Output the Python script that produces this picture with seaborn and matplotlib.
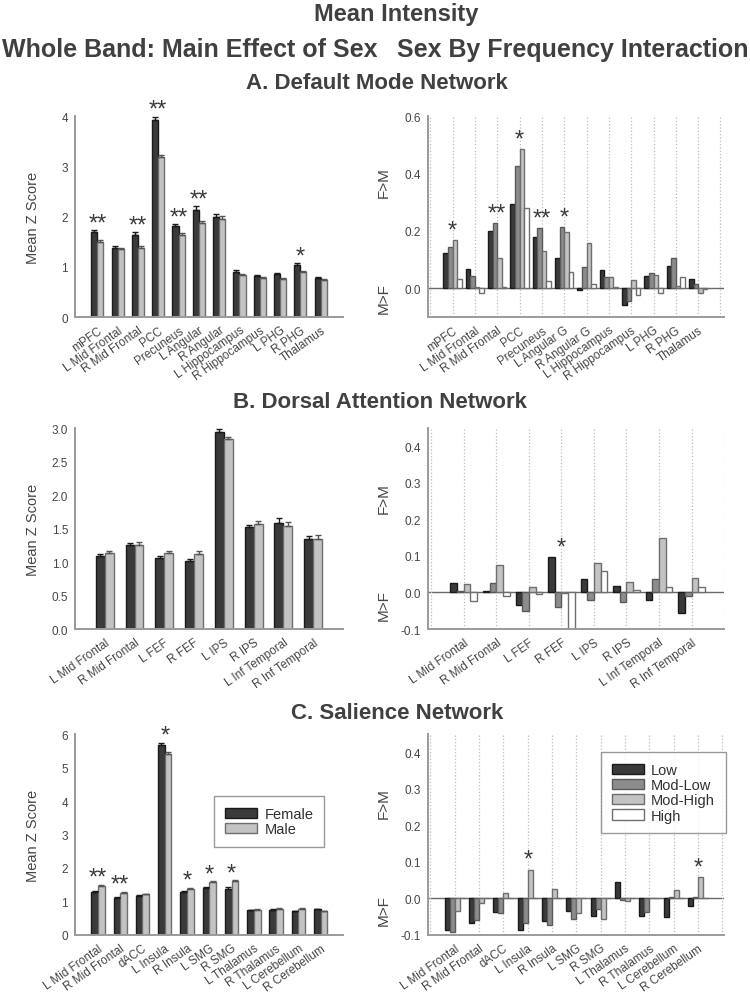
import numpy as np
import pandas as pd
import matplotlib
matplotlib.use("Agg")
import matplotlib.pyplot as plt
import matplotlib.transforms as mtransforms
import seaborn as sns

# A. Default Mode Network
dmn_regions = ["mPFC", "L Mid Frontal", "R Mid Frontal", "PCC", "Precuneus", "L Angular",
               "R Angular", "L Hippocampus", "R Hippocampus", "L PHG", "R PHG", "Thalamus"]
dmn_female = [1.69, 1.38, 1.64, 3.92, 1.81, 2.13, 1.99, 0.89, 0.81, 0.85, 1.03, 0.77]
dmn_male = [1.50, 1.35, 1.38, 3.18, 1.64, 1.87, 1.96, 0.83, 0.77, 0.76, 0.89, 0.74]
dmn_female_err = [0.04, 0.04, 0.05, 0.07, 0.04, 0.07, 0.06, 0.04, 0.03, 0.02, 0.04, 0.02]
dmn_male_err = [0.03, 0.03, 0.03, 0.05, 0.03, 0.05, 0.05, 0.02, 0.02, 0.02, 0.02, 0.01]
dmn_sex_stars = {0: "**", 2: "**", 3: "**", 4: "**", 5: "**", 10: "*"}

dmn_regions_int = ["mPFC", "L Mid Frontal", "R Mid Frontal", "PCC", "Precuneus", "L Angular G",
                   "R Angular G", "L Hippocampus", "R Hippocampus", "L PHG", "R PHG", "Thalamus"]
dmn_low = [0.123, 0.066, 0.199, 0.295, 0.180, 0.106, -0.006, 0.064, -0.058, 0.043, 0.079, 0.032]
dmn_modlow = [0.145, 0.042, 0.227, 0.427, 0.209, 0.214, 0.074, 0.038, -0.043, 0.053, 0.105, 0.015]
dmn_modhigh = [0.167, 0.003, 0.105, 0.484, 0.130, 0.195, 0.156, 0.038, 0.028, 0.046, 0.009, -0.018]
dmn_high = [0.031, -0.018, 0.003, 0.280, 0.025, 0.057, 0.015, 0.004, -0.022, -0.018, 0.039, -0.004]
dmn_int_stars = {0: "*", 2: "**", 3: "*", 4: "**", 5: "*"}

# B. Dorsal Attention Network
dan_regions = ["L Mid Frontal", "R Mid Frontal", "L FEF", "R FEF", "L IPS", "R IPS",
               "L Inf Temporal", "R Inf Temporal"]
dan_female = [1.09, 1.25, 1.06, 1.01, 2.94, 1.52, 1.58, 1.34]
dan_male = [1.14, 1.26, 1.14, 1.12, 2.83, 1.57, 1.54, 1.35]
dan_female_err = [0.03, 0.04, 0.03, 0.04, 0.04, 0.04, 0.07, 0.05]
dan_male_err = [0.03, 0.04, 0.03, 0.04, 0.03, 0.04, 0.06, 0.05]
dan_sex_stars = {}

dan_low = [0.025, 0.003, -0.034, 0.096, 0.036, 0.017, -0.021, -0.057]
dan_modlow = [0.003, 0.025, -0.050, -0.041, -0.021, -0.025, 0.037, -0.009]
dan_modhigh = [0.022, 0.075, 0.016, -0.001, 0.081, 0.030, 0.150, 0.039]
dan_high = [-0.022, -0.009, -0.003, -0.100, 0.060, 0.008, 0.016, 0.016]
dan_int_stars = {3: "*"}

# C. Salience Network
sal_regions = ["L Mid Frontal", "R Mid Frontal", "dACC", "L Insula", "R Insula", "L SMG",
               "R SMG", "L Thalamus", "R Thalamus", "L Cerebellum", "R Cerebellum"]
sal_female = [1.27, 1.09, 1.17, 5.67, 1.27, 1.40, 1.38, 0.75, 0.76, 0.72, 0.78]
sal_male = [1.47, 1.26, 1.21, 5.39, 1.38, 1.58, 1.60, 0.76, 0.79, 0.78, 0.71]
sal_female_err = [0.03, 0.03, 0.02, 0.07, 0.03, 0.03, 0.05, 0.01, 0.01, 0.01, 0.01]
sal_male_err = [0.03, 0.03, 0.02, 0.07, 0.03, 0.03, 0.04, 0.02, 0.02, 0.02, 0.02]
sal_sex_stars = {0: "**", 1: "**", 3: "*", 4: "*", 5: "*", 6: "*"}

sal_low = [-0.086, -0.068, -0.038, -0.086, -0.062, -0.035, -0.049, 0.046, -0.048, -0.052, -0.020]
sal_modlow = [-0.093, -0.058, -0.039, -0.068, -0.074, -0.056, -0.030, -0.004, -0.036, 0.004, 0.005]
sal_modhigh = [-0.033, -0.013, 0.016, 0.079, 0.027, -0.041, -0.057, -0.008, 0.000, 0.022, 0.058]
sal_high = [0.0, 0.0, 0.0, 0.0, 0.0, 0.0, 0.0, 0.0, 0.0, 0.0, 0.0]
sal_int_stars = {3: "*", 10: "*"}

SEX = ["Female", "Male"]
FREQ = ["Low", "Mod-Low", "Mod-High", "High"]
sex_colors = {"Female": "#3a3a3a", "Male": "#c3c3c3"}
sex_edges = ["#1a1a1a", "#6e6e6e"]
freq_colors = {"Low": "#3a3a3a", "Mod-Low": "#8c8c8c", "Mod-High": "#c3c3c3", "High": "#ffffff"}
freq_edges = ["#1a1a1a", "#5a5a5a", "#6e6e6e", "#6e6e6e"]

AX_GREY = "#9a9a9a"
TXT = "#454545"

sns.set_style("white")
plt.rcParams["font.family"] = ["Liberation Sans", "DejaVu Sans"]
plt.rcParams["axes.edgecolor"] = AX_GREY
plt.rcParams["xtick.color"] = AX_GREY
plt.rcParams["ytick.color"] = AX_GREY
plt.rcParams["xtick.labelcolor"] = TXT
plt.rcParams["ytick.labelcolor"] = TXT


def style_axes(ax, regions, xlim, ylim, yticks, ylabels):
    n = len(regions)
    sns.despine(ax=ax)
    for s in ("left", "bottom"):
        ax.spines[s].set_linewidth(1.4)
    ax.set_xlim(*xlim)
    ax.set_ylim(*ylim)
    ax.set_xticks(list(range(-1, n + 1)))
    ax.set_xticklabels([""] + list(regions) + [""], rotation=35, ha="right",
                       rotation_mode="anchor", fontsize=8.5)
    ax.set_yticks(yticks)
    ax.set_yticklabels(ylabels, fontsize=8.5)
    ax.tick_params(axis="both", direction="out", length=3, width=1, pad=2)
    ax.set_xlabel("")


def sex_panel(ax, regions, female, male, f_err, m_err, stars, xlim, ylim, yticks, ylabels, legend=False):
    n = len(regions)
    df = pd.DataFrame({"region": regions * 2, "sex": [SEX[0]] * n + [SEX[1]] * n, "z": female + male})
    sns.barplot(data=df, x="region", y="z", hue="sex", hue_order=SEX, palette=sex_colors,
                order=regions, width=0.6, errorbar=None, saturation=1, linewidth=1,
                legend=legend, ax=ax)
    errs = [f_err, m_err]
    ecols = ["#1a1a1a", "#555555"]
    for cont, err, ec, edge in zip(ax.containers, errs, ecols, sex_edges):
        xs, ys = [], []
        for p in cont:
            p.set_edgecolor(edge)
            xs.append(p.get_x() + p.get_width() / 2)
            ys.append(p.get_height())
        ax.errorbar(xs, ys, yerr=[np.zeros(n), err], fmt="none", ecolor=ec,
                    elinewidth=1, capsize=2.5, capthick=1)
    for i, s in stars.items():
        top = max(female[i] + f_err[i], male[i] + m_err[i])
        ax.annotate(s, xy=(i, top), xytext=(0, -3), textcoords="offset points", ha="center",
                    va="bottom", fontsize=17, color="#3a3a3a", annotation_clip=False)
    style_axes(ax, regions, xlim, ylim, yticks, ylabels)
    ax.set_ylabel("Mean Z Score", fontsize=10.5, color=TXT)
    ax.yaxis.set_label_coords(-0.13, 0.5)


def freq_panel(ax, regions, low, modlow, modhigh, high, stars, xlim, ylim, yticks, ylabels,
               fm_y, mf_y, legend=False):
    n = len(regions)
    vals = [low, modlow, modhigh, high]
    df = pd.DataFrame({"region": regions * 4,
                       "freq": [f for f in FREQ for _ in range(n)],
                       "d": [v for series in vals for v in series]})
    ax.axhline(0, color="#6a6a6a", lw=1, zorder=0.5)
    sns.barplot(data=df, x="region", y="d", hue="freq", hue_order=FREQ, palette=freq_colors,
                order=regions, width=0.82, errorbar=None, saturation=1, linewidth=1,
                legend=legend, ax=ax)
    for cont, edge in zip(ax.containers, freq_edges):
        for p in cont:
            p.set_edgecolor(edge)
    for i, s in stars.items():
        top = max(v[i] for v in vals)
        ax.annotate(s, xy=(i, top), xytext=(0, -1), textcoords="offset points", ha="center",
                    va="bottom", fontsize=17, color="#3a3a3a", annotation_clip=False)
    style_axes(ax, regions, xlim, ylim, yticks, ylabels)
    ax.grid(axis="x", linestyle=":", color="#bdbdbd", linewidth=0.9)
    ax.set_axisbelow(True)
    ax.set_ylabel("")
    trans = mtransforms.blended_transform_factory(ax.transAxes, ax.transData)
    ax.text(-0.15, fm_y, "F>M", rotation=90, ha="center", va="center", transform=trans,
            fontsize=11, color=TXT)
    ax.text(-0.15, mf_y, "M>F", rotation=90, ha="center", va="center", transform=trans,
            fontsize=11, color=TXT)


fig = plt.figure(figsize=(7.5, 9.95), dpi=100)
L, LW = 0.1, 0.3573
R, RW = 0.5707, 0.3947
H = 0.202
bottoms = [0.6804, 0.3668, 0.0593]

axA1 = fig.add_axes([L, bottoms[0], LW, H])
axA2 = fig.add_axes([R, bottoms[0], RW, H])
axB1 = fig.add_axes([L, bottoms[1], LW, H])
axB2 = fig.add_axes([R, bottoms[1], RW, H])
axC1 = fig.add_axes([L, bottoms[2], LW, H])
axC2 = fig.add_axes([R, bottoms[2], RW, H])

sex_panel(axA1, dmn_regions, dmn_female, dmn_male, dmn_female_err, dmn_male_err, dmn_sex_stars,
          (-1.1, 12.1), (0, 4), [0, 1, 2, 3, 4], ["0", "1", "2", "3", "4"])
freq_panel(axA2, dmn_regions_int, dmn_low, dmn_modlow, dmn_modhigh, dmn_high, dmn_int_stars,
           (-1.1, 12.16), (-0.1, 0.6), [0.0, 0.2, 0.4, 0.6], ["0.0", "0.2", "0.4", "0.6"],
           0.37, -0.032)

b_ticks = [0.0, 0.5, 1.0, 1.5, 2.0, 2.5, 3.0]
sex_panel(axB1, dan_regions, dan_female, dan_male, dan_female_err, dan_male_err, dan_sex_stars,
          (-0.87, 7.88), (0, 3), b_ticks, [f"{t:.1f}" for t in b_ticks])
r_ticks = [-0.1, 0.0, 0.1, 0.2, 0.3, 0.4]
freq_panel(axB2, dan_regions, dan_low, dan_modlow, dan_modhigh, dan_high, dan_int_stars,
           (-1.1, 7.92), (-0.1, 0.45), r_ticks, [f"{t:.1f}" for t in r_ticks], 0.26, -0.033)

sex_panel(axC1, sal_regions, sal_female, sal_male, sal_female_err, sal_male_err, sal_sex_stars,
          (-1.03, 10.98), (0, 6), [0, 1, 2, 3, 4, 5, 6], [str(t) for t in range(7)], legend=True)
freq_panel(axC2, sal_regions, sal_low, sal_modlow, sal_modhigh, sal_high, sal_int_stars,
           (-1.1, 11.07), (-0.1, 0.45), r_ticks, [f"{t:.1f}" for t in r_ticks], 0.263, -0.03,
           legend=True)

for ax, anchor, edges in ((axC1, (0.519, 0.692), sex_edges), (axC2, (0.584, 0.91), freq_edges)):
    sns.move_legend(ax, "upper left", bbox_to_anchor=anchor, title=None, frameon=True,
                    fancybox=False, fontsize=10.5, handlelength=2.2, handleheight=0.7,
                    borderpad=0.75, labelspacing=0.08, handletextpad=0.5, borderaxespad=0)
    leg = ax.get_legend()
    leg.get_frame().set_edgecolor("#808080")
    leg.get_frame().set_linewidth(1)
    for h, ec in zip(leg.legend_handles, edges):
        h.set_edgecolor(ec)
        h.set_linewidth(1)
    for t in leg.get_texts():
        t.set_color("#303030")

title_kw = dict(ha="center", va="center", fontweight="bold", color="#404040")
fig.text(0.528, 0.985, "Mean Intensity", fontsize=17, **title_kw)
fig.text(0.253, 0.950, "Whole Band: Main Effect of Sex", fontsize=18, **title_kw)
fig.text(0.764, 0.950, "Sex By Frequency Interaction", fontsize=18, **title_kw)
fig.text(0.503, 0.916, "A. Default Mode Network", fontsize=16, **title_kw)
fig.text(0.507, 0.595, "B. Dorsal Attention Network", fontsize=16, **title_kw)
fig.text(0.529, 0.283, "C. Salience Network", fontsize=16, **title_kw)

fig.savefig("out.png", dpi=100)
